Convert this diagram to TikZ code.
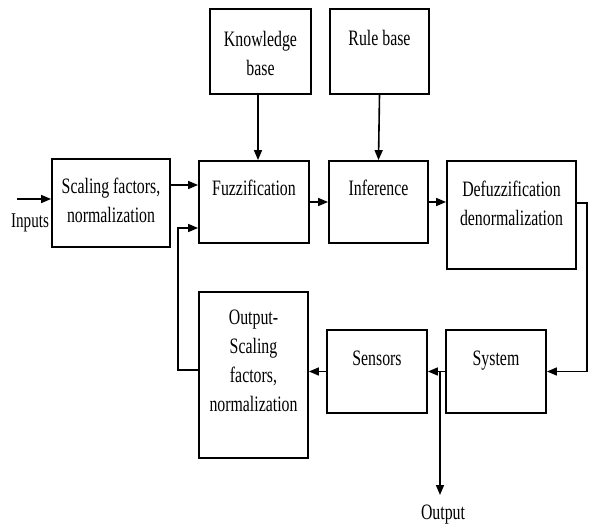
\documentclass[tikz,border=0pt]{standalone}
\usepackage{fontspec}
\setmainfont[FakeStretch=0.72]{Liberation Serif}
\usetikzlibrary{arrows.meta}
\begin{document}
\begin{tikzpicture}[x=1pt,y=-1pt,
  box/.style={draw, line width=1.8pt, inner sep=0pt},
  lbl/.style={inner sep=0pt, align=center, anchor=base, font=\fontsize{22}{29}\selectfont},
  arr/.style={line width=1.6pt, -{Triangle[length=10pt,width=8pt]}},
]
\useasboundingbox[fill=white] (0,0) rectangle (589,525);
% boxes
\node[box, minimum width=118pt, minimum height=88pt] (sc) at (111,203) {};
\node[box, minimum width=101pt, minimum height=85pt] (kb) at (260.5,51.5) {};
\node[box, minimum width=99pt, minimum height=85pt] (rb) at (379.5,51.5) {};
\node[box, minimum width=110pt, minimum height=82pt] (fz) at (254,202) {};
\node[box, minimum width=99pt, minimum height=82pt] (inf) at (378.5,202) {};
\node[box, minimum width=129pt, minimum height=108pt] (df) at (511.5,215) {};
\node[box, minimum width=100pt, minimum height=83pt] (sys) at (496,371.5) {};
\node[box, minimum width=100pt, minimum height=83pt] (sen) at (377,371.5) {};
\node[box, minimum width=109pt, minimum height=166pt] (os) at (253.5,375) {};
% texts (anchor = baseline of last line)
\node[lbl] (tsc) at (111,222) {Scaling factors,\\normalization};
\node[lbl] (tkb) at (260.5,75) {Knowledge\\base};
\node[lbl] (trb) at (379.5,45) {Rule base};
\node[lbl] (tfz) at (254,195) {Fuzzification};
\node[lbl] (tinf) at (378.5,195) {Inference};
\node[lbl] (tdf) at (511.5,225) {Defuzzification\\denormalization};
\node[lbl] (tsys) at (496,365) {System};
\node[lbl] (tsen) at (377,365) {Sensors};
\node[lbl] (tos) at (253.5,411) {Output-\\Scaling\\factors,\\normalization};
\node[lbl, font=\fontsize{21}{29}\selectfont] (inp) at (30,227) {Inputs};
\node[lbl] (out) at (443,519) {Output};
% coordinates
\coordinate (in) at (17,199);
\coordinate (br) at (440,371.5);
\coordinate (oend) at (440,495);
% connectors
\draw[arr] (in) -- (in -| sc.west);
\draw[arr] (sc.east |- 0,185) -- (fz.west |- 0,185);
\draw[arr] (kb.south -| 258,0) -- (fz.north -| 258,0);
\draw[arr] (rb.south) -- (inf.north);
\draw[arr] (fz.east) -- (inf.west);
\draw[arr] (inf.east) -- (df.west |- inf.east);
\draw[arr] (df.east |- 0,203) -| (587,371.5) -- (sys.east);
\draw[arr] (sys.west) -- (sen.east);
\draw[arr] (br) -- (oend);
\draw[arr] (sen.west) -- (os.east |- sen.west);
\draw[arr] (os.west |- 0,370) -- (178,370) -- (178,228) -- (fz.west |- 0,228);
\end{tikzpicture}
\end{document}
